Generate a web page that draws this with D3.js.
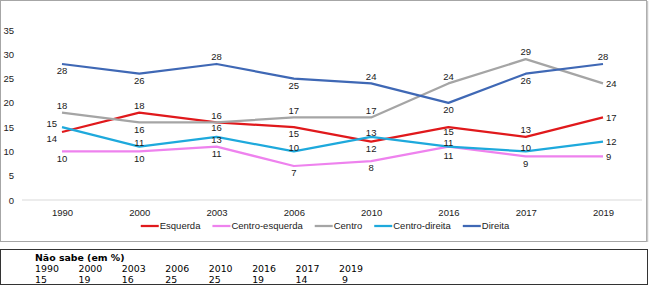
<!DOCTYPE html>
<html>
<head>
<meta charset="utf-8">
<script src="https://cdn.jsdelivr.net/npm/d3@7"></script>
<style>
  html, body { margin: 0; padding: 0; background: #fff; }
  svg { display: block; }
</style>
</head>
<body>
<div id="chart"></div>
<script>
// --- 資料 ---
const years = ["1990", "2000", "2003", "2006", "2010", "2016", "2017", "2019"];
const esquerda = [14, 18, 16, 15, 12, 15, 13, 17];
const centroEsquerda = [10, 10, 11, 7, 8, 11, 9, 9];
const centro = [18, 16, 16, 17, 17, 24, 29, 24];
const centroDireita = [15, 11, 13, 10, 13, 11, 10, 12];
const direita = [28, 26, 28, 25, 24, 20, 26, 28];
const naoSabe = [15, 19, 16, 25, 25, 19, 14, 9];
const yTicks = [0, 5, 10, 15, 20, 25, 30, 35];

// 標籤擺放: a=上, c=貼近上方, o=點上, b=下, bs=貼近下方, bb=較遠下方, r=右, bl=左下, al=左上
const series = [
  { name: "Esquerda", values: esquerda, color: "#e0191c", pos: ["bl", "a", "bs", "b", "b", "bs", "a", "r"] },
  { name: "Centro-esquerda", values: centroEsquerda, color: "#ee82ee", pos: ["b", "b", "b", "b", "b", "bb", "b", "r"] },
  { name: "Centro", values: centro, color: "#a5a5a5", pos: ["a", "b", "a", "a", "a", "a", "a", "r"] },
  { name: "Centro-direita", values: centroDireita, color: "#1ea9dc", pos: ["al", "c", "o", "c", "c", "c", "c", "r"] },
  { name: "Direita", values: direita, color: "#3f68b5", pos: ["b", "b", "a", "b", "a", "b", "b", "a"] }
];

const width = 650, height = 286;
const font = "'Liberation Sans', Arial, sans-serif";

const svg = d3.select("#chart").append("svg")
  .attr("width", width).attr("height", height);

// 圖表外框
svg.append("rect")
  .attr("x", 0.5).attr("y", 0.5).attr("width", 646).attr("height", 241)
  .attr("fill", "#fff").attr("stroke", "#a6a6a6");
svg.append("line")
  .attr("x1", 647.5).attr("x2", 647.5).attr("y1", 1).attr("y2", 242)
  .attr("stroke", "#c8c8c8").attr("stroke-width", 1.5);

// --- 比例尺 ---
const x = d3.scalePoint().domain(years).range([62, 603]);
const y = d3.scaleLinear().domain([0, 35]).range([200, 30]);

// Y 軸
const yAxis = svg.append("g")
  .attr("transform", "translate(14,0)")
  .call(d3.axisLeft(y).tickValues(yTicks).tickSize(0).tickPadding(0));
yAxis.select(".domain").remove();
yAxis.selectAll("text")
  .style("font-family", font).style("font-size", "9.5px").attr("fill", "#222");

// 基線
svg.append("line")
  .attr("x1", 22).attr("x2", 642)
  .attr("y1", y(0)).attr("y2", y(0))
  .attr("stroke", "#d9d9d9").attr("stroke-width", 1);

// X 軸
const xAxis = svg.append("g")
  .attr("transform", `translate(0,${y(0)})`)
  .call(d3.axisBottom(x).tickSize(0).tickPadding(9));
xAxis.select(".domain").remove();
xAxis.selectAll("text")
  .style("font-family", font).style("font-size", "9.5px").attr("fill", "#222");

// --- 折線 ---
const line = d3.line()
  .x((d, i) => x(years[i]))
  .y(d => y(d));

svg.append("g").selectAll("path")
  .data(series)
  .join("path")
    .attr("fill", "none")
    .attr("stroke", d => d.color)
    .attr("stroke-width", 2.25)
    .attr("stroke-linejoin", "round")
    .attr("d", d => line(d.values));

// --- 資料標籤 ---
const offsets = {
  a:  { dx: 0, dy: -7, anchor: "middle" },
  c:  { dx: 0, dy: -4, anchor: "middle" },
  o:  { dx: 0, dy: 2.5, anchor: "middle" },
  b:  { dx: 0, dy: 7, anchor: "middle" },
  bs: { dx: 0, dy: 5, anchor: "middle" },
  bb: { dx: 0, dy: 9, anchor: "middle" },
  r:  { dx: 3, dy: 0, anchor: "start" },
  bl: { dx: -5, dy: 7, anchor: "end" },
  al: { dx: -5, dy: -3, anchor: "end" }
};

series.forEach(s => {
  svg.append("g").selectAll("text")
    .data(s.values)
    .join("text")
      .attr("x", (d, i) => x(years[i]) + offsets[s.pos[i]].dx)
      .attr("y", (d, i) => y(d) + offsets[s.pos[i]].dy)
      .attr("dy", "0.35em")
      .attr("text-anchor", (d, i) => offsets[s.pos[i]].anchor)
      .style("font-family", font).style("font-size", "9.5px")
      .attr("fill", "#1a1a1a")
      .text(d => d);
});

// --- 圖例 ---
const legend = svg.append("g");
let lx = 0;
series.forEach(s => {
  const item = legend.append("g").attr("transform", `translate(${lx},0)`);
  item.append("line")
    .attr("x1", 0).attr("x2", 18).attr("y1", 0).attr("y2", 0)
    .attr("stroke", s.color).attr("stroke-width", 2.25);
  const t = item.append("text")
    .attr("x", 19).attr("dy", "0.35em")
    .style("font-family", font).style("font-size", "9.5px")
    .attr("fill", "#222")
    .text(s.name);
  lx += 19 + t.node().getComputedTextLength() + 12;
});
const legendW = lx - 12;
legend.attr("transform", `translate(${325 - legendW / 2},226)`);

// --- 下方表格: Não sabe ---
svg.append("rect")
  .attr("x", 0.5).attr("y", 249.5).attr("width", 647).attr("height", 35)
  .attr("fill", "#fff").attr("stroke", "#333");

const tFont = "'DejaVu Sans', Verdana, sans-serif";
const colX = d3.scalePoint().domain(years).range([35, 339]);

svg.append("text")
  .attr("x", 35).attr("y", 261)
  .style("font-family", tFont).style("font-size", "9.4px").style("font-weight", "bold")
  .attr("fill", "#000")
  .text("Não sabe (em %)");

svg.append("g").selectAll("text")
  .data(years)
  .join("text")
    .attr("x", d => colX(d)).attr("y", 272)
    .style("font-family", tFont).style("font-size", "9.4px")
    .attr("fill", "#000")
    .text(d => d);

svg.append("g").selectAll("text")
  .data(naoSabe)
  .join("text")
    .attr("x", (d, i) => colX(years[i]) + (d < 10 ? 3 : 0)).attr("y", 283)
    .style("font-family", tFont).style("font-size", "9.4px")
    .attr("fill", "#000")
    .text(d => d);
</script>
</body>
</html>
